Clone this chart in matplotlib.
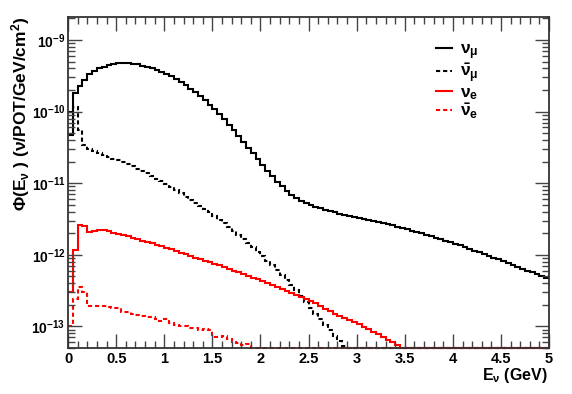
import numpy as np
import matplotlib
matplotlib.use("Agg")
import matplotlib.pyplot as plt
from matplotlib.ticker import FixedLocator, LogLocator, FuncFormatter, MultipleLocator, NullFormatter

plt.rcParams["font.family"] = ["Liberation Sans", "DejaVu Sans"]
plt.rcParams["font.weight"] = "bold"
plt.rcParams["mathtext.fontset"] = "custom"
plt.rcParams["mathtext.rm"] = "Liberation Sans:bold"
plt.rcParams["mathtext.it"] = "Liberation Sans:bold"
plt.rcParams["mathtext.bf"] = "Liberation Sans:bold"

# binning: 100 bins of 0.05 GeV from 0 to 5 GeV
bin_edges = np.linspace(0, 5, 101)

# flux per bin (nu/POT/GeV/cm^2); 0 = empty bin
numu = [4.7e-11, 1.8e-10, 2.3e-10, 2.8e-10, 3.3e-10, 3.7e-10, 4.0e-10, 4.25e-10, 4.45e-10, 4.6e-10,
        4.7e-10, 4.75e-10, 4.72e-10, 4.65e-10, 4.55e-10, 4.4e-10, 4.25e-10, 4.05e-10, 3.85e-10, 3.62e-10,
        3.38e-10, 3.12e-10, 2.86e-10, 2.6e-10, 2.35e-10, 2.1e-10, 1.87e-10, 1.65e-10, 1.44e-10, 1.25e-10,
        1.07e-10, 9.2e-11, 7.8e-11, 6.6e-11, 5.5e-11, 4.6e-11, 3.8e-11, 3.15e-11, 2.6e-11, 2.15e-11,
        1.78e-11, 1.48e-11, 1.24e-11, 1.05e-11, 9.0e-12, 7.8e-12, 6.9e-12, 6.2e-12, 5.7e-12, 5.3e-12,
        5.0e-12, 4.7e-12, 4.45e-12, 4.25e-12, 4.05e-12, 3.9e-12, 3.75e-12, 3.6e-12, 3.5e-12, 3.38e-12,
        3.28e-12, 3.18e-12, 3.08e-12, 2.98e-12, 2.88e-12, 2.78e-12, 2.68e-12, 2.58e-12, 2.48e-12, 2.38e-12,
        2.28e-12, 2.18e-12, 2.09e-12, 2.0e-12, 1.91e-12, 1.82e-12, 1.74e-12, 1.66e-12, 1.58e-12, 1.5e-12,
        1.42e-12, 1.35e-12, 1.28e-12, 1.21e-12, 1.14e-12, 1.08e-12, 1.02e-12, 9.6e-13, 9.1e-13, 8.6e-13,
        8.1e-13, 7.6e-13, 7.2e-13, 6.8e-13, 6.4e-13, 6.0e-13, 5.7e-13, 5.4e-13, 5.1e-13, 4.8e-13]

numubar = [1.0e-10, 1.15e-10, 5.5e-11, 3.4e-11, 3.0e-11, 2.8e-11, 2.65e-11, 2.5e-11, 2.35e-11, 2.2e-11,
           2.08e-11, 1.96e-11, 1.84e-11, 1.72e-11, 1.6e-11, 1.48e-11, 1.37e-11, 1.26e-11, 1.16e-11, 1.06e-11,
           9.7e-12, 8.8e-12, 8.0e-12, 7.2e-12, 6.5e-12, 5.9e-12, 5.3e-12, 4.8e-12, 4.35e-12, 3.9e-12,
           3.5e-12, 3.1e-12, 2.75e-12, 2.45e-12, 2.15e-12, 1.9e-12, 1.65e-12, 1.45e-12, 1.27e-12, 1.1e-12,
           9.6e-13, 8.3e-13, 7.2e-13, 6.2e-13, 5.3e-13, 4.5e-13, 3.8e-13, 3.2e-13, 2.65e-13, 2.2e-13,
           1.8e-13, 1.5e-13, 1.25e-13, 1.05e-13, 8.8e-14, 7.4e-14, 6.3e-14, 5.4e-14, 4.6e-14, 0,
           0, 0, 0, 0, 0, 0, 0, 0, 0, 0,
           0, 0, 0, 0, 0, 0, 0, 0, 0, 0,
           0, 0, 0, 0, 0, 0, 0, 0, 0, 0,
           0, 0, 0, 0, 0, 0, 0, 0, 0, 0]

nue = [3.0e-13, 1.15e-12, 2.6e-12, 2.55e-12, 2.05e-12, 2.15e-12, 2.2e-12, 2.2e-12, 2.14e-12, 2.04e-12,
       1.95e-12, 1.86e-12, 1.8e-12, 1.74e-12, 1.66e-12, 1.58e-12, 1.51e-12, 1.45e-12, 1.38e-12, 1.32e-12,
       1.26e-12, 1.2e-12, 1.12e-12, 1.07e-12, 1.02e-12, 9.5e-13, 9.1e-13, 8.7e-13, 8.3e-13, 7.8e-13,
       7.4e-13, 7.1e-13, 6.8e-13, 6.3e-13, 6.0e-13, 5.75e-13, 5.4e-13, 5.1e-13, 4.8e-13, 4.55e-13,
       4.25e-13, 4.05e-13, 3.8e-13, 3.55e-13, 3.3e-13, 3.1e-13, 2.9e-13, 2.75e-13, 2.55e-13, 2.4e-13,
       2.25e-13, 2.1e-13, 1.9e-13, 1.75e-13, 1.62e-13, 1.5e-13, 1.4e-13, 1.32e-13, 1.23e-13, 1.15e-13,
       1.07e-13, 9.8e-14, 9.1e-14, 8.3e-14, 7.8e-14, 7.1e-14, 6.5e-14, 6.0e-14, 5.5e-14, 0,
       0, 0, 0, 0, 0, 0, 0, 0, 0, 0,
       0, 0, 0, 0, 0, 0, 0, 0, 0, 0,
       0, 0, 0, 0, 0, 0, 0, 0, 0, 0]

nuebar = [1.0e-13, 2.4e-13, 3.5e-13, 3.0e-13, 1.95e-13, 1.9e-13, 1.95e-13, 1.9e-13, 1.85e-13, 1.8e-13,
          1.78e-13, 1.6e-13, 1.58e-13, 1.5e-13, 1.45e-13, 1.4e-13, 1.35e-13, 1.33e-13, 1.25e-13, 1.2e-13,
          1.25e-13, 1.12e-13, 1.05e-13, 1.02e-13, 1.0e-13, 9.6e-14, 9.4e-14, 9.0e-14, 9.2e-14, 8.8e-14,
          7.2e-14, 7.0e-14, 7.3e-14, 6.6e-14, 6.0e-14, 5.8e-14, 5.5e-14, 5.6e-14, 0, 0,
          0, 0, 0, 0, 0, 0, 0, 0, 0, 0,
          0, 0, 0, 0, 0, 0, 0, 0, 0, 0,
          0, 0, 0, 0, 0, 0, 0, 0, 0, 0,
          0, 0, 0, 0, 0, 0, 0, 0, 0, 0,
          0, 0, 0, 0, 0, 0, 0, 0, 0, 0,
          0, 0, 0, 0, 0, 0, 0, 0, 0, 0]

labels = [r"$\nu_{\mu}$", r"$\bar{\nu}_{\mu}$", r"$\nu_{e}$", r"$\bar{\nu}_{e}$"]
y_decades = [1e-13, 1e-12, 1e-11, 1e-10, 1e-9]

ymin, ymax = 5e-14, 2.1e-9

fig = plt.figure(figsize=(5.72, 3.94), dpi=100)
ax = fig.add_axes([0.119, 0.117, 0.841, 0.840])

dash = (0, (2.0, 1.4))
series = [(numu, "black", "-"), (numubar, "black", dash), (nue, "red", "-"), (nuebar, "red", dash)]
handles = []
for (vals, col, ls), lab in zip(series, labels):
    v = np.clip(np.array(vals), ymin, None)
    ax.stairs(v, bin_edges, baseline=None, color=col, linestyle=ls, lw=1.5, clip_on=False)
    h, = ax.plot([], [], color=col, linestyle=ls, lw=1.5, label=lab)
    handles.append(h)

ax.set_yscale("log")
ax.set_xlim(0, 5)
ax.set_ylim(ymin, ymax)

ax.xaxis.set_major_locator(MultipleLocator(0.5))
ax.xaxis.set_minor_locator(MultipleLocator(0.1))
ax.xaxis.set_major_formatter(FuncFormatter(lambda x, p: "%g" % x))
ax.yaxis.set_major_locator(FixedLocator(y_decades))
ax.yaxis.set_minor_locator(LogLocator(base=10, subs=np.arange(2, 10)))
ax.yaxis.set_minor_formatter(NullFormatter())
ax.yaxis.set_major_formatter(FuncFormatter(lambda y, p: r"$10^{%d}$" % round(np.log10(y))))

ax.tick_params(which="both", direction="in", top=True, right=True, labelsize=10, width=1.0, color="#444444")
ax.tick_params(which="major", length=10)
ax.tick_params(which="minor", length=5)
ax.tick_params(axis="x", pad=3, labelsize=10.5)
ax.tick_params(axis="y", pad=2)
for s in ax.spines.values():
    s.set_linewidth(1.3)
    s.set_color("#333333")

fig.text(0.958, 0.022, r"E$_{\nu}$ (GeV)", ha="right", va="bottom", fontsize=11.5)
fig.text(0.036, 0.957, r"$\Phi$(E$_{\nu}$ ) ($\nu$/POT/GeV/cm$^{2}$)", rotation=90,
         ha="center", va="top", fontsize=12.5)

ax.legend(handles=handles, loc="upper left", bbox_to_anchor=(0.765, 0.925), frameon=False,
          fontsize=12.5, handlelength=0.9, handletextpad=0.5, labelspacing=0.0,
          borderpad=0, borderaxespad=0)

fig.savefig("out.png", dpi=100)
